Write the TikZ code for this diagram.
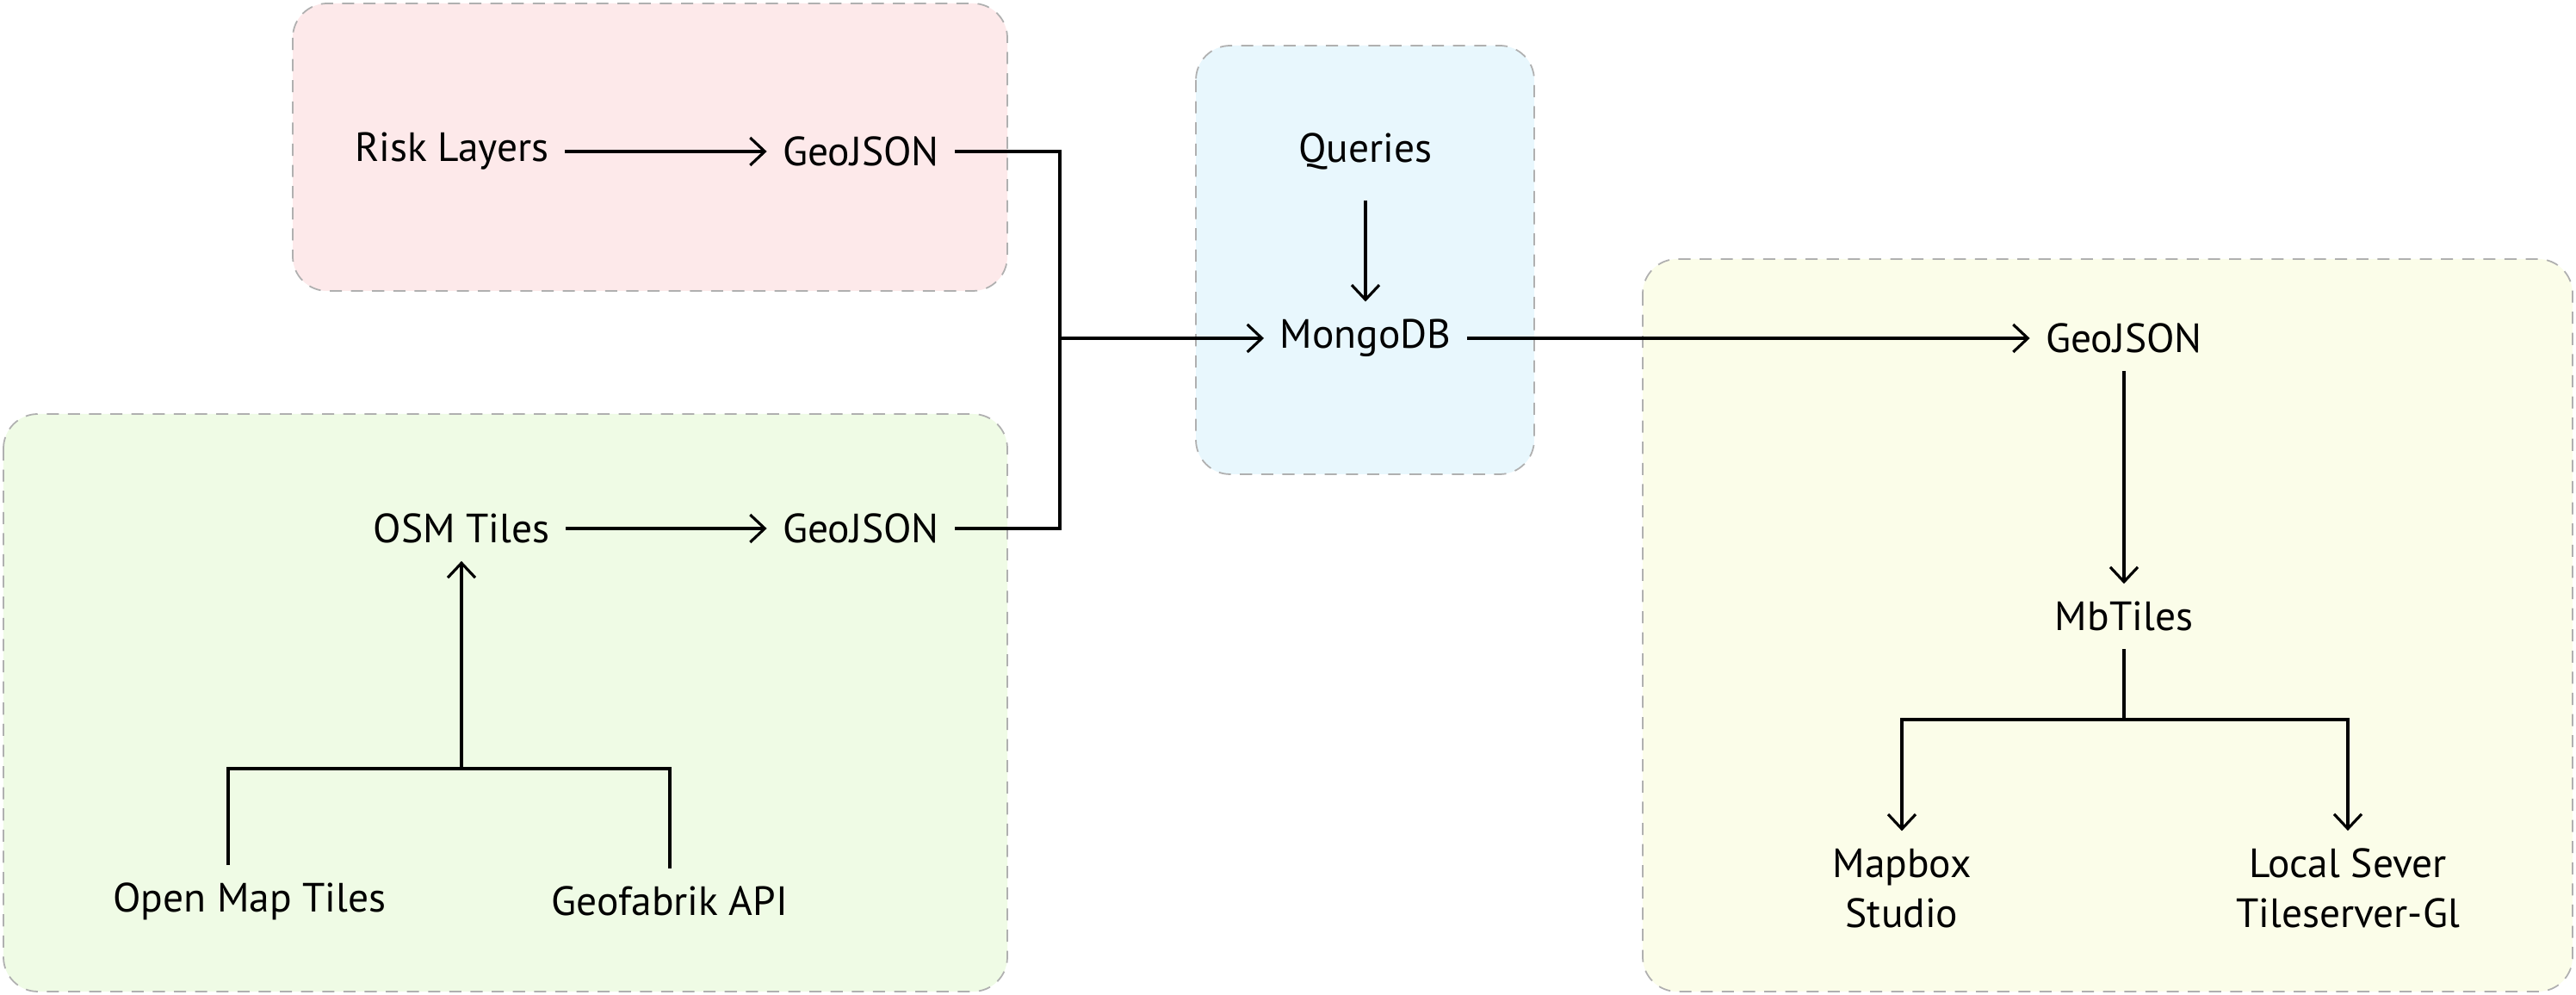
\documentclass[tikz,border=0pt]{standalone}
\usepackage{fontspec}
\usetikzlibrary{arrows.meta}
\setmainfont{PT Sans}
\definecolor{riskbg}{HTML}{FDE9EA}
\definecolor{dbbg}{HTML}{E8F7FD}
\definecolor{osmbg}{HTML}{EFFBE5}
\definecolor{outbg}{HTML}{FBFDE9}
\definecolor{framegray}{HTML}{B0B0B0}
\begin{document}
\begin{tikzpicture}[
		every node/.style={font=\fontsize{13.5}{16.5}\selectfont, inner xsep=0.18cm, inner ysep=0.2cm, align=center},
		area/.style={draw=framegray, line width=0.5pt, dash pattern=on 4pt off 3pt, rounded corners=0.4cm},
		flow/.style={line width=0.9pt},
		>={Straight Barb[length=0.17cm, width=0.32cm]}
	]
	\useasboundingbox (0,0) rectangle (29.92,-11.56);

	% background areas
	\draw[area, fill=riskbg] (3.40,-0.04) rectangle (11.70,-3.38);
	\draw[area, fill=dbbg] (13.89,-0.53) rectangle (17.82,-5.51);
	\draw[area, fill=osmbg] (0.04,-4.81) rectangle (11.70,-11.52);
	\draw[area, fill=outbg] (19.08,-3.01) rectangle (29.88,-11.52);

	\node (R) at (5.25,-1.76) {Risk Layers};
	\node (G1) at (10.00,-1.76) {GeoJSON};
	\node (Q) at (15.86,-1.76) {Queries};
	\node (M) at (15.86,-3.93) {MongoDB};
	\node (G3) at (24.67,-3.93) {GeoJSON};
	\node (O) at (5.36,-6.14) {OSM Tiles};
	\node (G2) at (10.00,-6.14) {GeoJSON};
	\node (OM) at (2.90,-10.47) {Open Map Tiles};
	\node (GF) at (7.78,-10.47) {Geofabrik API};
	\node (MB) at (24.67,-7.16) {MbTiles};
	\node (MS) at (22.09,-10.32) {Mapbox\\Studio};
	\node (LS) at (27.27,-10.32) {Local Sever\\Tileserver-Gl};

	\coordinate (J) at (12.31,-3.93);
	\coordinate (B) at (5.36,-8.93);
	\coordinate (S) at (24.67,-8.36);

	\path [flow, ->] (R) edge (G1);
	\path [flow, ->] (O) edge (G2);
	\draw [flow] (G1) -| (J);
	\draw [flow] (G2) -| (J);
	\path [flow, ->] (J) edge (M);
	\path [flow, ->, shorten <=0.15cm] (Q) edge (M);
	\path [flow, ->] (M) edge (G3);
	\path [flow, ->] (G3) edge (MB);
	\draw [flow] ([xshift=-0.25cm]OM.north) |- (B) -| (GF.north);
	\path [flow, ->] (B) edge (O);
	\draw [flow] (MB) -- (S);
	\draw [flow, ->] (S) -| (MS);
	\draw [flow, ->] (S) -| (LS);
\end{tikzpicture}
\end{document}
